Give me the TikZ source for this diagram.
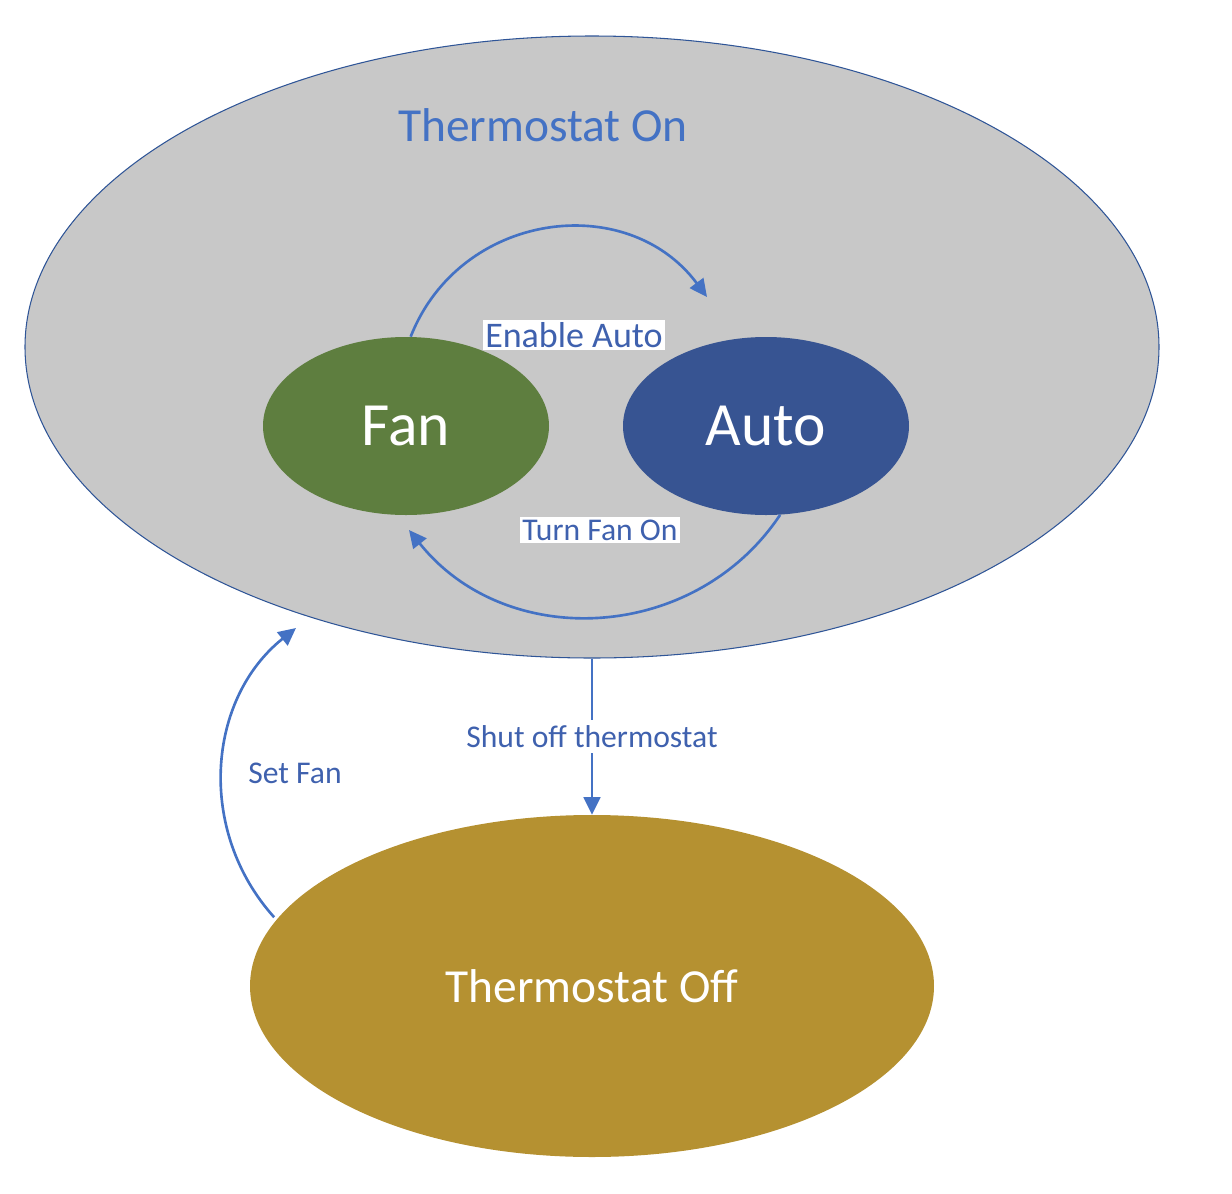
\documentclass[tikz,border=0pt]{standalone}
\usepackage{fontspec}
\setmainfont{Carlito}
\usetikzlibrary{arrows.meta,shapes.geometric,calc}
\definecolor{bggray}{HTML}{C8C8C8}
\definecolor{rimblue}{HTML}{2F5597}
\definecolor{fangreen}{HTML}{5E7E3F}
\definecolor{autoblue}{HTML}{375492}
\definecolor{offgold}{HTML}{B59131}
\definecolor{arrowblue}{HTML}{4472C4}
\definecolor{labelblue}{HTML}{3F61AE}
\tikzset{
  stateell/.style={ellipse, inner sep=0pt, text=white},
  conn/.style={draw=arrowblue, line width=1.5pt, -{Triangle[length=10pt,width=9.5pt]}},
  lbl/.style={text=labelblue, font=\fontsize{18pt}{21pt}\selectfont, inner sep=2pt},
}
\begin{document}
\begin{tikzpicture}[x=0.02cm,y=-0.02cm]
\useasboundingbox (0,0) rectangle (1232,1194);
% big ellipse
\node[ellipse, fill=bggray, draw=rimblue, line width=0.6pt, inner sep=0pt,
      minimum width=1134*0.02cm, minimum height=622*0.02cm] (on) at (592,347) {};
\node[text=arrowblue, font=\fontsize{27pt}{32pt}\selectfont] (ontitle) at (543,125) {Thermostat On};
% inner states
\node[stateell, fill=fangreen, minimum width=286*0.02cm, minimum height=178*0.02cm,
      font=\fontsize{35pt}{40pt}\selectfont] (fan) at (406,426) {Fan};
\node[stateell, fill=autoblue, minimum width=286*0.02cm, minimum height=178*0.02cm,
      font=\fontsize{35pt}{40pt}\selectfont] (auto) at (766,426) {Auto};
% off state
\node[stateell, fill=offgold, minimum width=684*0.02cm, minimum height=342*0.02cm,
      font=\fontsize{27pt}{32pt}\selectfont] (off) at (592,986) {Thermostat Off};
% free ends
\coordinate (eaend) at (707,297);
\coordinate (tfend) at (409,530);
\coordinate (sfend) at (296,628);
% connectors
\draw[conn] (fan.87) .. controls (460,211.5) and (627,189.6) .. (eaend);
\draw[conn] (auto.-81) .. controls (694.8,642.7) and (506.3,652) .. (tfend);
\draw[conn] ($(off.167.5)+(-7,3)$) .. controls (196.3,830.7) and (207,699) .. (sfend);
\draw[conn] (on.south) -- node[lbl, fill=white, inner sep=3pt] (shutlbl) {Shut off thermostat} (off.north);
% labels
\node[lbl, fill=white, font=\fontsize{20.5pt}{24pt}\selectfont, inner sep=1.5pt] (ealbl) at (574,335) {Enable Auto};
\node[lbl, fill=white, inner sep=1.5pt] (tflbl) at (600,530) {Turn Fan On};
\node[lbl] (sflbl) at (295,773) {Set Fan};
\end{tikzpicture}
\end{document}
